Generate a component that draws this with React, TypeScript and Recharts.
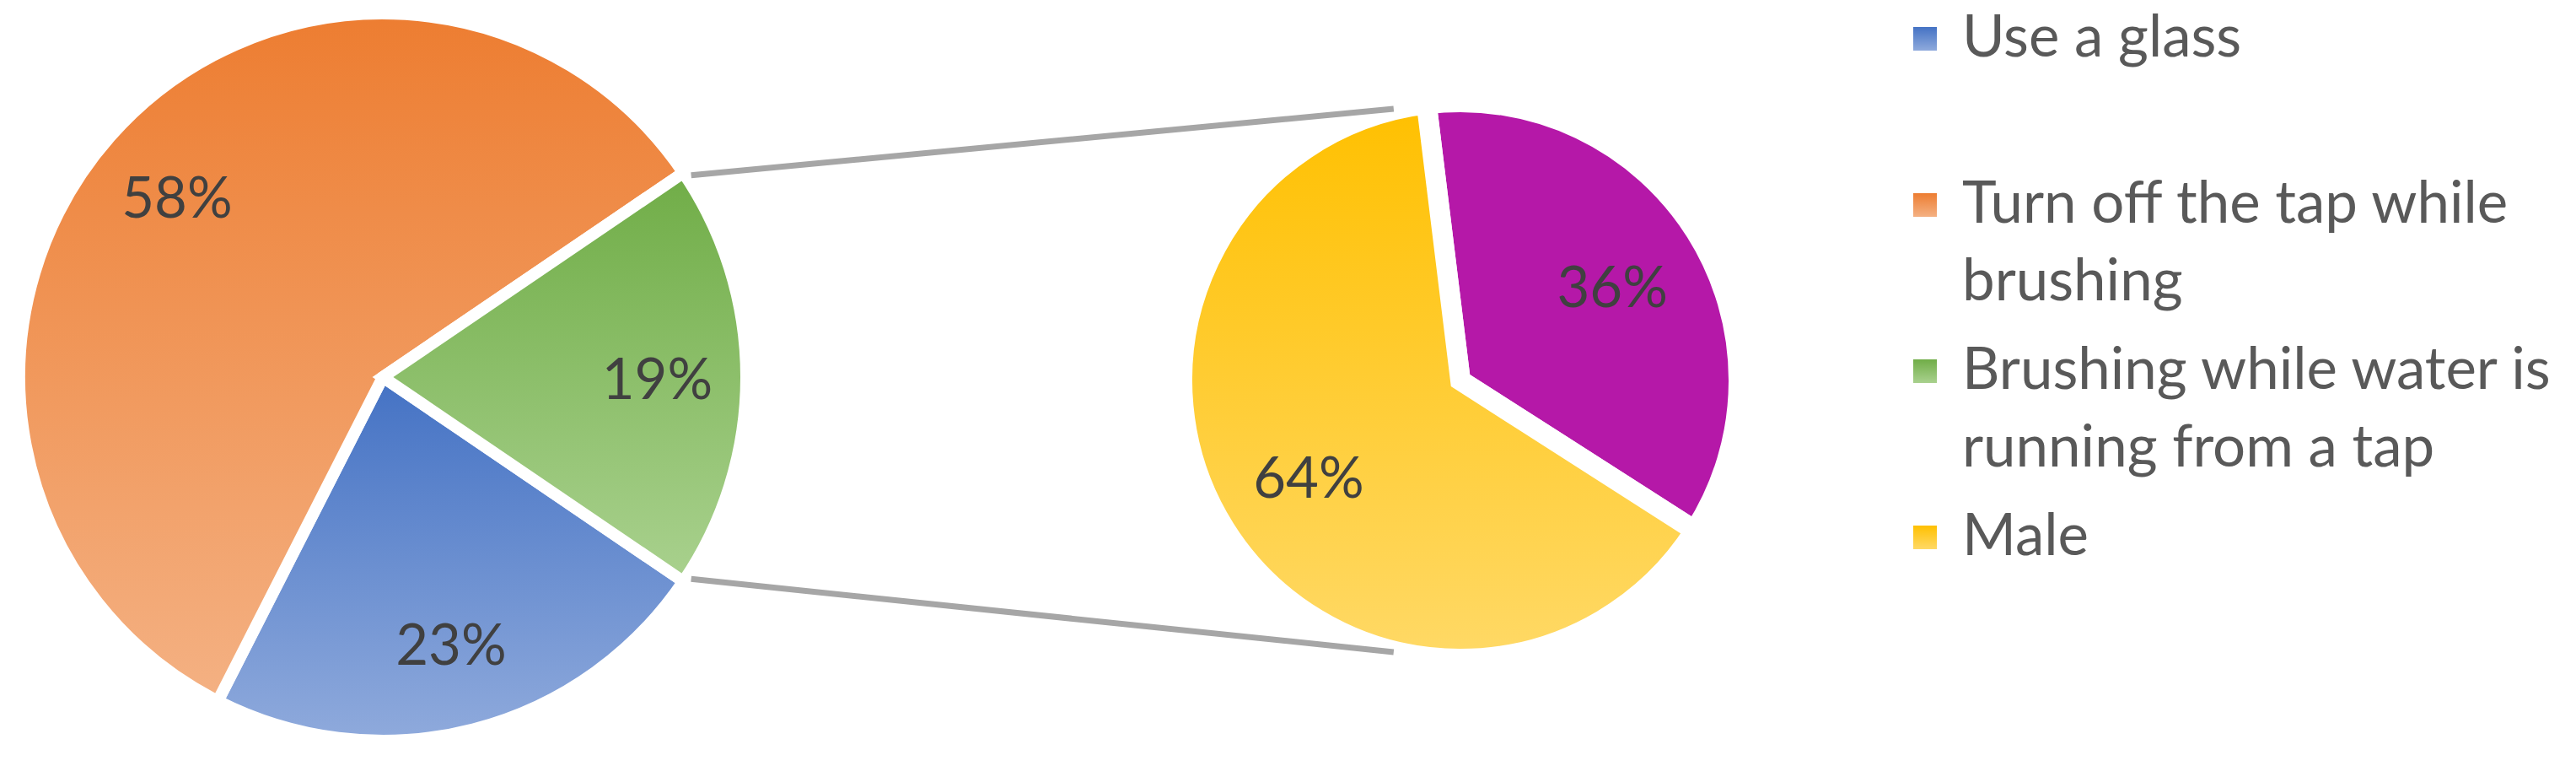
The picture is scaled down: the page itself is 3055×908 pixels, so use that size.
import React from 'react';
import { PieChart, Pie, Cell, Legend } from 'recharts';

// main pie
const categories = ['Use a glass', 'Turn off the tap while brushing', 'Brushing while water is running from a tap'];
const shares = [23, 58, 19];

// secondary pie (split of the "Brushing while water is running" slice)
const splitNames = ['Female', 'Male'];
const splitShares = [36, 64];

const legendNames = ['Use a glass', 'Turn off the tap while brushing', 'Brushing while water is running from a tap', 'Male'];

const mainData = categories.map((name, i) => ({ name, value: shares[i] }));
const splitData = splitNames.map((name, i) => ({ name, value: splitShares[i] }));

const W = 3055;
const H = 908;
const MAIN = { cx: 454, cy: 447, r: 431, gap: 14 };
const SPLIT = { cx: 1732, cy: 451, r: 330, gap: 24 };
const FONT = 'Lato, "Open Sans", sans-serif';
const RAD = Math.PI / 180;

const gradients: Record<string, [string, string]> = {
  'Use a glass': ['#4472C4', '#8FAADC'],
  'Turn off the tap while brushing': ['#ED7D31', '#F4B183'],
  'Brushing while water is running from a tap': ['#70AD47', '#A9D18E'],
  Male: ['#FFC000', '#FFD966'],
  Female: ['#B518A8', '#B518A8'],
};
const gid = (name: string) => 'g' + name.replace(/[^a-zA-Z]/g, '');

const makeLabel = (ratio: number) => (props: any) => {
  const { cx, cy, midAngle, outerRadius, value } = props;
  const r = outerRadius * ratio;
  const x = cx + r * Math.cos(-midAngle * RAD);
  const y = cy + r * Math.sin(-midAngle * RAD);
  return (
    <text x={x} y={y} textAnchor="middle" dominantBaseline="central" fill="#404040" fontSize={67} fontFamily={FONT}>
      {value}%
    </text>
  );
};

// the split slice sits centered on 3 o'clock
const total = shares.reduce((a, b) => a + b, 0);
const half = (shares[2] / total) * 180;

// series lines from the split slice to the secondary pie, drawn on top
function Connectors() {
  const r0 = MAIN.r + 6;
  const x0 = MAIN.cx + r0 * Math.cos((half - 1) * RAD);
  const dy0 = r0 * Math.sin((half - 1) * RAD);
  const x1 = SPLIT.cx - SPLIT.r * 0.24;
  const dy1 = SPLIT.r - 8;
  return (
    <svg width={W} height={H} style={{ position: 'absolute', left: 0, top: 0, pointerEvents: 'none' }}>
      <line x1={x0} y1={MAIN.cy - dy0} x2={x1} y2={SPLIT.cy - dy1} stroke="#A6A6A6" strokeWidth={7} />
      <line x1={x0} y1={MAIN.cy + dy0} x2={x1} y2={SPLIT.cy + dy1} stroke="#A6A6A6" strokeWidth={7} />
    </svg>
  );
}

const SLOT = 197;

function LegendBox() {
  return (
    <div style={{ fontFamily: FONT }}>
      {legendNames.map((name) => (
        <div key={name} style={{ position: 'relative', height: SLOT }}>
          <div
            style={{
              position: 'absolute',
              left: 0,
              top: 37,
              width: 28,
              height: 28,
              background: `linear-gradient(${gradients[name][0]}, ${gradients[name][1]})`,
            }}
          />
          <div style={{ position: 'absolute', left: 58, top: 0, width: 735, fontSize: 69, lineHeight: '92px', color: '#595959' }}>
            {name}
          </div>
        </div>
      ))}
    </div>
  );
}

export default function App() {
  return (
    <div style={{ position: 'absolute', left: 0, top: 0, width: W, height: H, background: '#fff', overflow: 'hidden' }}>
      <PieChart width={W} height={H} margin={{ top: 0, right: 0, bottom: 0, left: 0 }}>
        <defs>
          {Object.keys(gradients).map((k) => (
            <linearGradient key={k} id={gid(k)} x1="0" y1="0" x2="0" y2="1">
              <stop offset="0%" stopColor={gradients[k][0]} />
              <stop offset="100%" stopColor={gradients[k][1]} />
            </linearGradient>
          ))}
        </defs>
        <Pie
          data={mainData}
          dataKey="value"
          nameKey="name"
          cx={MAIN.cx}
          cy={MAIN.cy}
          outerRadius={MAIN.r}
          startAngle={-half}
          endAngle={-half - 360}
          stroke="#fff"
          strokeWidth={MAIN.gap}
          label={makeLabel(0.755)}
          labelLine={false}
          isAnimationActive={false}
        >
          {mainData.map((d) => (
            <Cell key={d.name} fill={`url(#${gid(d.name)})`} />
          ))}
        </Pie>
        <Pie
          data={splitData}
          dataKey="value"
          nameKey="name"
          cx={SPLIT.cx}
          cy={SPLIT.cy}
          outerRadius={SPLIT.r}
          startAngle={97}
          endAngle={97 - 360}
          stroke="#fff"
          strokeWidth={SPLIT.gap}
          label={makeLabel(0.645)}
          labelLine={false}
          isAnimationActive={false}
        >
          {splitData.map((d) => (
            <Cell key={d.name} fill={`url(#${gid(d.name)})`} />
          ))}
        </Pie>
        <Legend
          layout="vertical"
          align="right"
          verticalAlign="top"
          content={() => <LegendBox />}
          wrapperStyle={{ left: 2269, top: -5, right: 'auto', width: 786 }}
        />
      </PieChart>
      <Connectors />
    </div>
  );
}
